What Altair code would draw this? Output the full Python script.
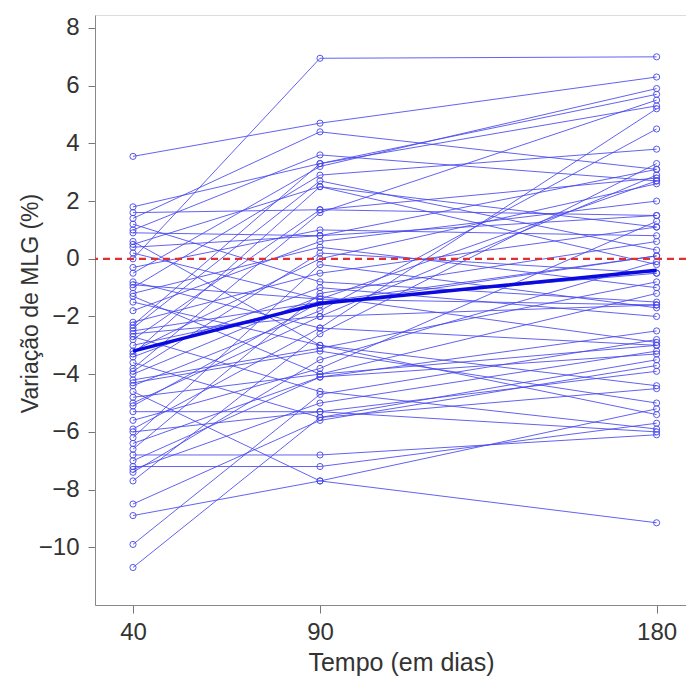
import altair as alt
import pandas as pd

days = [40, 90, 180]

v40 = [3.55, 1.8, 1.6, 1.4, 1.0, 0.9, 0.5, 0.2, 0.0, -0.3, -0.5, -0.8, -1.0, -1.2, -1.5,
       -1.8, -2.2, -2.4, -2.5, -2.7, -3.0, -3.2, -3.4, -3.6, -3.8, -4.2, -4.4, -4.6, -4.8, -5.0,
       -5.3, -5.6, -6.2, -6.4, -6.6, -6.8, -7.2, -7.3, -7.4, -7.7, -8.5, -8.9, -9.9, -10.7, -2.3,
       -4.3, 1.2, -0.9, -5.9, -3.9, -1.3, -2.8, 0.6, -6.0, -4.0, -2.6, 0.4, -7.0, -5.1, -3.3]
v90 = [4.7, 3.3, 1.7, 4.4, 3.6, 0.8, 2.5, -1.4, 6.95, 1.0, 3.2, -2.4, 2.9, 0.4, -3.0,
       0.6, -0.5, 2.7, -1.5, -4.6, -1.6, 0.0, -1.0, -5.5, 1.6, -3.1, -1.8, -7.7, -4.0, -2.0,
       -5.3, -3.8, -0.2, -4.1, -1.2, -6.8, -7.2, -5.0, -3.5, -2.6, -5.6, -7.7, -4.7, -5.5, 3.3,
       -3.2, -0.8, -1.4, -2.4, 0.2, -4.0, 1.7, -3.0, -5.3, -1.3, -2.0, 0.8, -4.1, -1.5, 2.5]
v180 = [6.3, 5.3, 2.8, 3.1, 2.7, 1.5, -0.2, -1.6, 7.0, 0.8, 5.9, -3.0, 3.8, -1.0, -5.4,
        2.0, 1.1, 0.3, -0.5, -5.9, 0.1, 2.6, -2.0, -3.5, 5.5, -0.8, 4.5, -9.15, -1.2, 2.9,
        -3.9, 1.3, -1.7, -2.5, 0.6, -6.1, -5.7, -3.2, -0.1, 3.3, -3.7, -5.2, -2.8, -4.5, 5.7,
        -5.0, -1.5, 2.7, 5.2, -0.5, -3.0, 1.5, -4.4, -6.0, -2.9, -1.6, 3.1, -3.3, 0.1, 1.1]

mean_vals = [-3.2, -1.55, -0.4]

rows = []
for i, (a, b, c) in enumerate(zip(v40, v90, v180)):
    for d, v in zip(days, (a, b, c)):
        rows.append({"id": i, "dia": d, "val": v})
df = pd.DataFrame(rows)
mean_df = pd.DataFrame({"dia": days, "val": mean_vals})
zero_df = pd.DataFrame({"y": [0]})

xs = alt.Scale(domain=[29.84, 187.86], nice=False, zero=False)
ys = alt.Scale(domain=[-12, 8.45], nice=False, zero=False)

x_axis = alt.Axis(values=days, title="Tempo (em dias)", grid=False, labelFontSize=24,
                  titleFontSize=25, tickSize=8, tickColor="#777", domainColor="#888",
                  labelColor="#333", titleColor="#333", titleFontWeight="normal",
                  labelPadding=7, titlePadding=6, titleX=306, labelFont="Liberation Sans",
                  titleFont="Liberation Sans")
y_axis = alt.Axis(values=list(range(-10, 9, 2)), title="Variação de MLG (%)", grid=False,
                  labelFontSize=24, titleFontSize=23, tickSize=7, tickColor="#777",
                  domainColor="#888", labelColor="#333", titleColor="#333",
                  titleFontWeight="normal", labelPadding=9, titlePadding=-4, titleY=288,
                  labelFont="Liberation Sans", titleFont="Liberation Sans")

lines = alt.Chart(df).mark_line(color="#4646ee", strokeWidth=1, opacity=0.85).encode(
    x=alt.X("dia:Q", scale=xs, axis=x_axis),
    y=alt.Y("val:Q", scale=ys, axis=y_axis),
    detail="id:N",
)
points = alt.Chart(df).mark_point(shape="circle", filled=False, color="#4646ee",
                                  size=38, strokeWidth=1, opacity=0.9).encode(
    x=alt.X("dia:Q", scale=xs),
    y=alt.Y("val:Q", scale=ys),
)
zero = alt.Chart(zero_df).mark_rule(color="#e03030", strokeWidth=2.2,
                                    strokeDash=[7, 5]).encode(y=alt.Y("y:Q", scale=ys))
mean_line = alt.Chart(mean_df).mark_line(color="#0a0ae0", strokeWidth=3.5).encode(
    x=alt.X("dia:Q", scale=xs),
    y=alt.Y("val:Q", scale=ys),
)

chart = alt.layer(lines, points, zero, mean_line).properties(
    width=591, height=590,
    autosize=alt.AutoSizeParams(type="none"),
    padding={"left": 87, "top": 7, "right": 0, "bottom": 74},
).configure_view(stroke=None).configure(background="white")

chart.save("out.html", embed_options={"renderer": "svg", "actions": False})
